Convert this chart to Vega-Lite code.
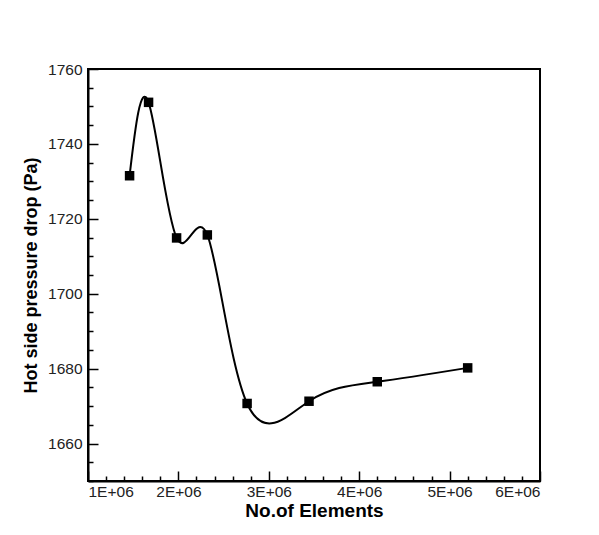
{
  "$schema": "https://vega.github.io/schema/vega-lite/v6.json",
  "width": 452,
  "height": 412,
  "autosize": {"type": "none"},
  "padding": {"left": 88, "top": 69, "right": 59, "bottom": 54},
  "background": "white",
  "config": {
    "view": {"stroke": "black", "strokeWidth": 2},
    "axis": {
      "grid": false,
      "domainColor": "black",
      "domainWidth": 2,
      "tickColor": "black",
      "tickWidth": 1.5,
      "labelFont": "Liberation Sans",
      "labelFontSize": 15.5,
      "labelColor": "#222",
      "titleFont": "Liberation Sans",
      "titleFontWeight": "bold",
      "titleColor": "black"
    }
  },
  "data": {
    "values": [
      {"elements": 1460000, "dp": 1731.5},
      {"elements": 1670000, "dp": 1751.1},
      {"elements": 1980000, "dp": 1714.9},
      {"elements": 2320000, "dp": 1715.7},
      {"elements": 2760000, "dp": 1670.7},
      {"elements": 3445000, "dp": 1671.3},
      {"elements": 4200000, "dp": 1676.5},
      {"elements": 5200000, "dp": 1680.2}
    ]
  },
  "encoding": {
    "x": {
      "field": "elements",
      "type": "quantitative",
      "scale": {"domain": [1000000, 6000000], "nice": false, "zero": false},
      "axis": {
        "title": "No.of Elements",
        "titleFontSize": 19,
        "titlePadding": 2,
        "labelPadding": 13,
        "values": [1000000, 1200000, 1400000, 1600000, 1800000, 2000000, 2200000, 2400000, 2600000, 2800000, 3000000, 3200000, 3400000, 3600000, 3800000, 4000000, 4200000, 4400000, 4600000, 4800000, 5000000, 5200000, 5400000, 5600000, 5800000, 6000000],
        "labelExpr": "datum.value % 1000000 === 0 ? (datum.value / 1000000) + 'E+06' : ''",
        "tickSize": {"condition": {"test": "datum.value % 1000000 === 0", "value": -10}, "value": -5}
      }
    },
    "y": {
      "field": "dp",
      "type": "quantitative",
      "scale": {"domain": [1650, 1760], "nice": false, "zero": false},
      "axis": {
        "title": "Hot side pressure drop (Pa)",
        "titleFontSize": 18,
        "titlePadding": 7,
        "labelPadding": 16,
        "values": [1650, 1655, 1660, 1665, 1670, 1675, 1680, 1685, 1690, 1695, 1700, 1705, 1710, 1715, 1720, 1725, 1730, 1735, 1740, 1745, 1750, 1755, 1760],
        "labelExpr": "datum.value % 20 === 0 ? datum.value : ''",
        "tickSize": {"condition": {"test": "datum.value % 20 === 0", "value": -10}, "value": -5}
      }
    }
  },
  "layer": [
    {"mark": {"type": "line", "interpolate": "natural", "color": "black", "strokeWidth": 2}},
    {"mark": {"type": "point", "shape": "square", "filled": true, "color": "black", "opacity": 1, "size": 90}}
  ]
}
